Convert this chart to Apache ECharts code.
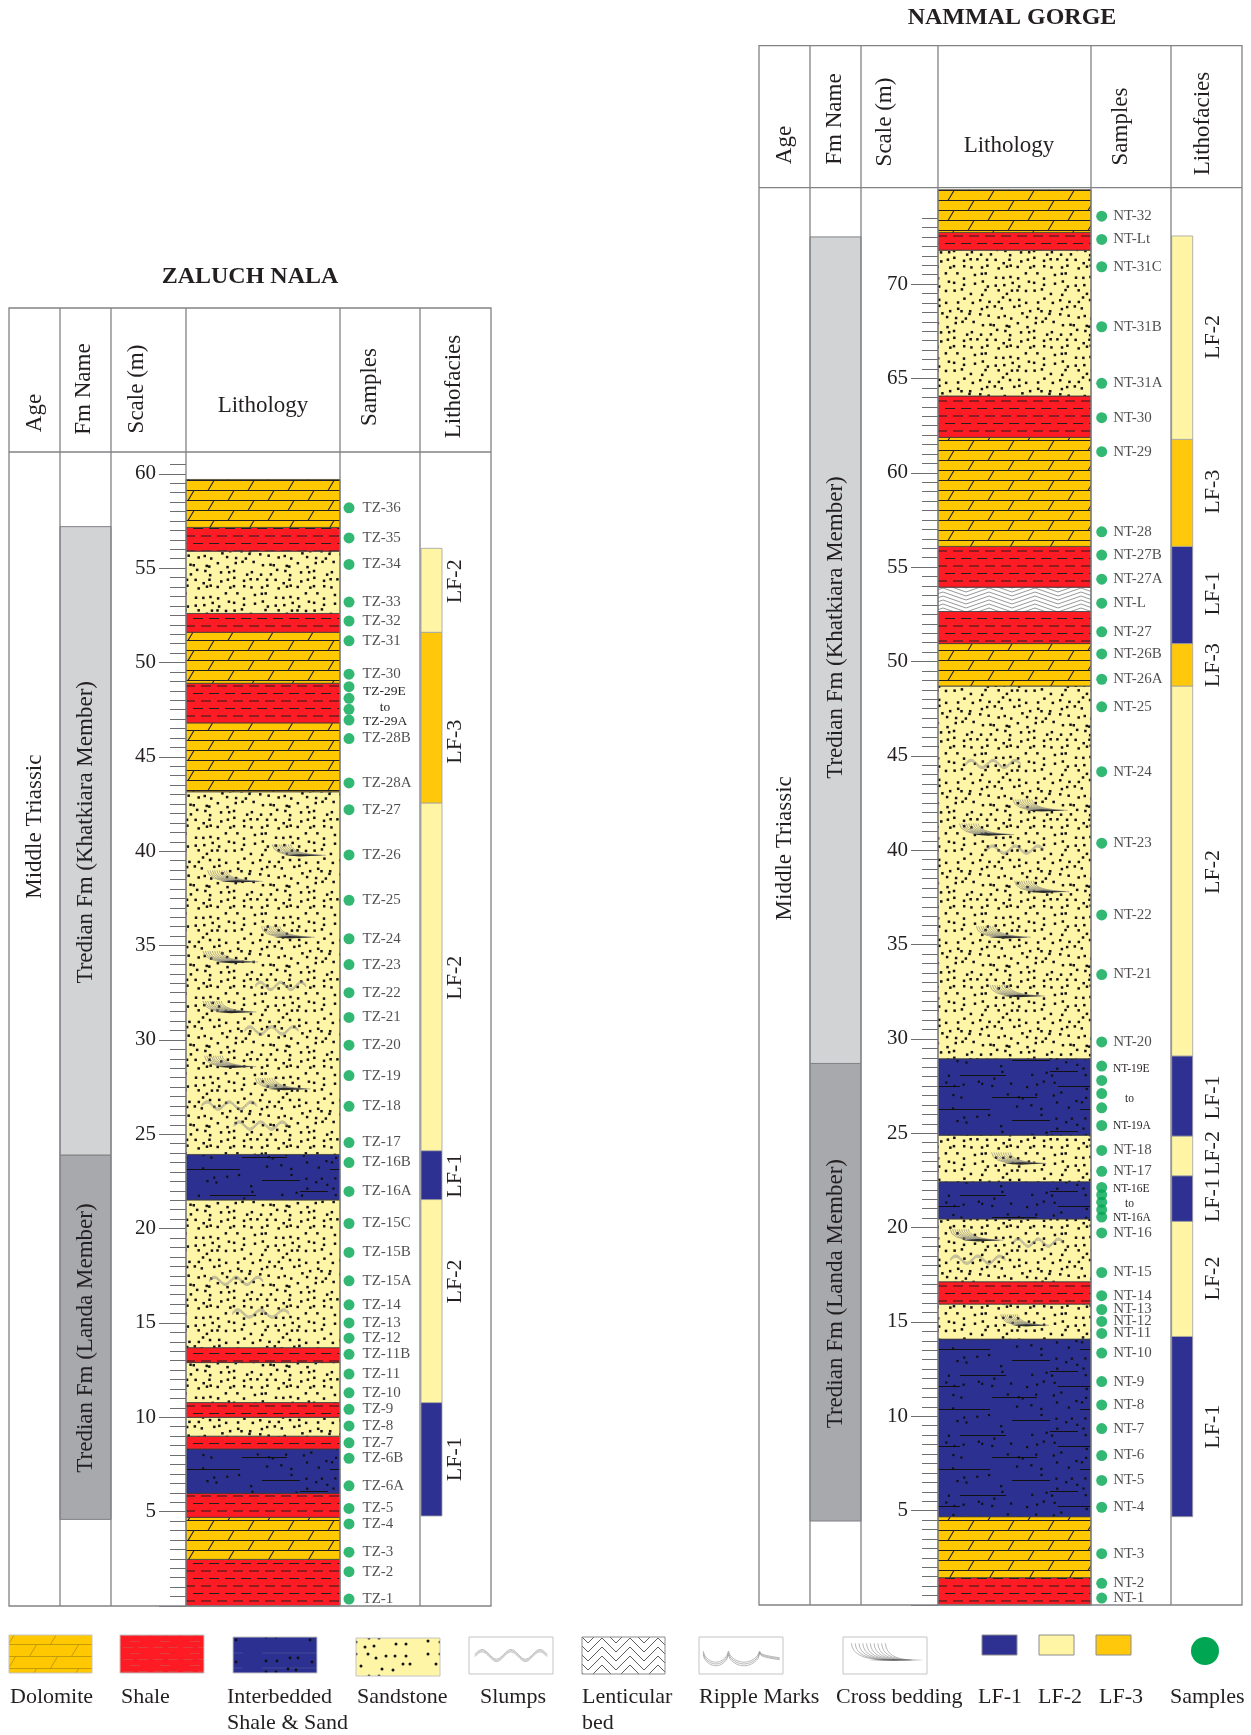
<!DOCTYPE html>
<html><head><meta charset="utf-8">
<script src="https://cdn.jsdelivr.net/npm/echarts/dist/echarts.min.js"></script>
<style>html,body{margin:0;padding:0;background:#fff}#c{width:1251px;height:1735px}</style>
</head><body><div id="c"></div>
<script>
// ================= DATA (depths in metres) =================
// lithology layers: [base, top, lithology]
const zaluchLayers = [
  [0, 2.47, 'shale'], [2.47, 4.7, 'dolomite'], [4.7, 5.97, 'shale'], [5.97, 8.32, 'inter'],
  [8.32, 9.0, 'shale'], [9.0, 10.0, 'sand'], [10.0, 10.78, 'shale'], [10.78, 12.9, 'sand'],
  [12.9, 13.69, 'shale'], [13.69, 21.52, 'sand'], [21.52, 23.93, 'inter'], [23.93, 43.15, 'sand'],
  [43.15, 46.8, 'dolomite'], [46.8, 48.9, 'shale'], [48.9, 51.6, 'dolomite'], [51.6, 52.6, 'shale'],
  [52.6, 55.9, 'sand'], [55.9, 57.16, 'shale'], [57.16, 59.7, 'dolomite']
];
const nammalLayers = [
  [0, 1.45, 'shale'], [1.45, 4.68, 'dolomite'], [4.68, 14.09, 'inter'], [14.09, 15.95, 'sand'],
  [15.95, 17.13, 'shale'], [17.13, 20.46, 'sand'], [20.46, 22.43, 'inter'], [22.43, 24.9, 'sand'],
  [24.9, 28.95, 'inter'], [28.95, 48.7, 'sand'], [48.7, 50.95, 'dolomite'], [50.95, 52.65, 'shale'],
  [52.65, 53.94, 'lenticular'], [53.94, 56.1, 'shale'], [56.1, 61.88, 'dolomite'], [61.88, 64.07, 'shale'],
  [64.07, 71.8, 'sand'], [71.8, 72.74, 'shale'], [72.74, 75.0, 'dolomite']
];
// samples: [label, depth]  ('' = dot of a labelled group)
const zaluchSamples = [
  ['TZ-1',0.37],['TZ-2',1.82],['TZ-3',2.85],['TZ-4',4.35],['TZ-5',5.17],['TZ-6A',6.37],['TZ-6B',7.83],
  ['TZ-7',8.65],['TZ-8',9.54],['TZ-9',10.42],['TZ-10',11.3],['TZ-11',12.29],['TZ-11B',13.34],['TZ-12',14.19],
  ['TZ-13',15.0],['TZ-14',15.96],['TZ-15A',17.23],['TZ-15B',18.74],['TZ-15C',20.27],['TZ-16A',21.97],
  ['TZ-16B',23.5],['TZ-17',24.56],['TZ-18',26.48],['TZ-19',28.11],['TZ-20',29.72],['TZ-21',31.19],
  ['TZ-22',32.5],['TZ-23',33.99],['TZ-24',35.36],['TZ-25',37.4],['TZ-26',39.8],['TZ-27',42.2],
  ['TZ-28A',43.62],['TZ-28B',45.97],['',46.95],['',47.52],['',48.1],['',48.72],['TZ-30',49.38],
  ['TZ-31',51.15],['TZ-32',52.2],['TZ-33',53.2],['TZ-34',55.2],['TZ-35',56.6],['TZ-36',58.2]
];
const zaluchSampleGroups = [['TZ-29E',48.45],['to',47.6],['TZ-29A',46.86]];
const nammalSamples = [
  ['NT-1',0.37],['NT-2',1.15],['NT-3',2.72],['NT-4',5.18],['NT-5',6.6],['NT-6',7.92],['NT-7',9.35],
  ['NT-8',10.6],['NT-9',11.84],['NT-10',13.35],['NT-11',14.39],['NT-12',15.03],['NT-13',15.66],
  ['NT-14',16.39],['NT-15',17.62],['NT-16',19.72],['',20.56],['',20.95],['',21.35],['',21.74],['',22.13],
  ['NT-17',22.98],['NT-18',24.09],['',25.41],['',26.35],['',27.1],['',27.8],['',28.56],['NT-20',29.84],
  ['NT-21',33.41],['NT-22',36.57],['NT-23',40.37],['NT-24',44.16],['NT-25',47.6],['NT-26A',49.06],
  ['NT-26B',50.4],['NT-27',51.57],['NT-L',53.09],['NT-27A',54.36],['NT-27B',55.64],['NT-28',56.87],
  ['NT-29',61.12],['NT-30',62.92],['NT-31A',64.74],['NT-31B',67.74],['NT-31C',70.92],['NT-Lt',72.37],['NT-32',73.6]
];
const nammalSampleGroups = [['NT-19E',28.4],['to',26.84],['NT-19A',25.37],['NT-16E',22.03],['to',21.25],['NT-16A',20.52]];
// lithofacies: [base, top, name, label depth]
const zaluchFacies = [[4.77,10.78,'LF-1',7.78],[10.78,21.54,'LF-2',17.2],[21.54,24.13,'LF-1',22.8],
  [24.13,42.56,'LF-2',33.3],[42.56,51.6,'LF-3',45.8],[51.6,56.05,'LF-2',54.3]];
const nammalFacies = [[4.68,14.23,'LF-1',9.45],[14.23,20.33,'LF-2',17.3],[20.33,22.75,'LF-1',21.45],
  [22.75,24.85,'LF-2',23.95],[24.85,29.1,'LF-1',26.9],[29.1,48.7,'LF-2',38.85],[48.7,50.95,'LF-3',49.8],
  [50.95,56.1,'LF-1',53.6],[56.1,61.77,'LF-3',59.0],[61.77,72.55,'LF-2',67.2]];
// formations: [base, top, name, member, label depth]
const zaluchFormations = [[4.59,23.9,'Tredian Fm (Landa Member)','landa',14.2],
  [23.9,57.2,'Tredian Fm (Khatkiara Member)','khatkiara',41.0]];
const nammalFormations = [[4.45,28.7,'Tredian Fm (Landa Member)','landa',16.5],
  [28.7,72.5,'Tredian Fm (Khatkiara Member)','khatkiara',51.8]];
const zaluchAge = [['Middle Triassic',41.3]];
const nammalAge = [['Middle Triassic',40.1]];
// sedimentary structures: [depth, from (fraction of column), to, type]
const zaluchStructures = [
  [39.78,0.56,0.89,'cross'],[38.4,0.14,0.48,'cross'],[35.44,0.49,0.82,'cross'],[34.13,0.11,0.45,'cross'],
  [32.86,0.45,0.78,'slump'],[31.48,0.11,0.44,'cross'],[30.5,0.38,0.73,'slump'],[28.58,0.12,0.44,'cross'],
  [27.4,0.45,0.79,'cross'],[26.52,0.1,0.46,'slump'],[25.46,0.31,0.66,'slump'],[17.23,0.15,0.5,'slump'],
  [15.5,0.3,0.67,'slump']
];
const nammalStructures = [
  [44.57,0.18,0.54,'slump'],[42.11,0.49,0.83,'cross'],[40.83,0.14,0.48,'cross'],[40.03,0.32,0.69,'slump'],
  [37.8,0.5,0.84,'cross'],[35.39,0.25,0.59,'cross'],[32.27,0.34,0.68,'cross'],[23.4,0.35,0.69,'cross'],
  [19.33,0.08,0.41,'cross'],[19.2,0.49,0.82,'slump'],[18.3,0.08,0.44,'slump'],[14.82,0.41,0.71,'cross']
];
// scale axes: labelled ticks and top of the minor ticks
const zaluchTickLabels = [5,10,15,20,25,30,35,40,45,50,55,60];
const zaluchTickTop = 60.5;
const nammalTickLabels = [5,10,15,20,25,30,35,40,45,50,55,60,65,70];
const nammalTickTop = 73.5;
const legendLabels = ['Dolomite','Shale','Interbedded\nShale & Sand','Sandstone','Slumps','Lenticular\nbed',
  'Ripple Marks','Cross bedding','LF-1','LF-2','LF-3','Samples'];

// ================= STYLE =================
const FONT = '"Liberation Serif","Times New Roman",serif';
const TXT = '#231F20';
const PPM = 18.87;
const C = {dolomite:'#FFC800', shale:'#FF1B24', inter:'#2C3091', sand:'#FFF5A6', green:'#00A651',
  lf1:'#2E3192', lf2:'#FFF5A5', lf3:'#FFC80A', landa:'#A7A9AC', khatkiara:'#D1D3D4', line:'#808285'};

function hash(i, j, k){ const h = Math.sin(i*12.9898 + j*78.233 + k*37.719)*43758.5453; return h - Math.floor(h); }
function tile(w, h, fn){ const c = document.createElement('canvas'); c.width = w; c.height = h; fn(c.getContext('2d'), w, h); return {image: c, repeat: 'repeat'}; }

function doloDraw(col, lw){ return (g,w,h)=>{ g.fillStyle=C.dolomite; g.fillRect(0,0,w,h); g.strokeStyle=col; g.lineWidth=lw;
  const r=h/2; g.beginPath(); g.moveTo(0,0.5); g.lineTo(w,0.5); g.moveTo(0,r+0.5); g.lineTo(w,r+0.5);
  g.moveTo(w*0.2,r+0.5); g.lineTo(w*0.2+r*0.6,0.5); g.moveTo(w*0.7,h+0.5); g.lineTo(w*0.7+r*0.6,r+0.5); g.stroke(); }; }
function zigDraw(period, amp, gap, n, col, lw){ return (g,w,h)=>{ g.fillStyle='#fff'; g.fillRect(0,0,w,h); g.strokeStyle=col; g.lineWidth=lw; g.beginPath();
  for (let k=-2;k<n+2;k++){ const o=k*gap; g.moveTo(0,o+amp); g.lineTo(w/2,o); g.lineTo(w,o+amp); } g.stroke(); }; }
const P = {
  dolomite: tile(40,20,doloDraw('#231F20',1.1)),
  shale: tile(32,15,(g,w,h)=>{ g.fillStyle=C.shale; g.fillRect(0,0,w,h); g.strokeStyle='#231F20'; g.lineWidth=1.2; g.beginPath();
    [[1,11],[17,27]].forEach(s=>{g.moveTo(s[0],3.5); g.lineTo(s[1],3.5);});
    [[9,19],[25,32],[0,3]].forEach(s=>{g.moveTo(s[0],11); g.lineTo(s[1],11);}); g.stroke(); }),
  sand: tile(80,80,(g,w,h)=>{ g.fillStyle=C.sand; g.fillRect(0,0,w,h); g.fillStyle='#111';
    for(let i=0;i<10;i++) for(let j=0;j<10;j++){ const x=i*8+hash(i,j,1)*6, y=j*8+hash(i,j,2)*6; g.fillRect(x,y,2.5,2.5);} }),
  inter: tile(150,60,(g,w,h)=>{ g.fillStyle=C.inter; g.fillRect(0,0,w,h); g.fillStyle='#111';
    for(let i=0;i<15;i++) for(let j=0;j<6;j++){ if(hash(i,j,3)<0.6){ g.fillRect(i*10+hash(i,j,4)*8, j*10+hash(i,j,5)*8, 2.2, 2.2);} }
    g.strokeStyle='#111'; g.lineWidth=1.1; g.beginPath();
    [[8,6,52],[92,17,45],[30,29,60],[112,40,38],[0,51,28],[60,55,46]].forEach(s=>{g.moveTo(s[0],s[1]+0.5); g.lineTo(s[0]+s[2],s[1]+0.5);}); g.stroke(); }),
  lenticular: tile(46,16,zigDraw(46,8,4,4,'#6a6a6a',0.7))
};
const LP = {
  dolomite: tile(42,24,doloDraw('#9a7a10',0.6)),
  shale: tile(30,12,(g,w,h)=>{ g.fillStyle=C.shale; g.fillRect(0,0,w,h); g.strokeStyle='#d94848'; g.lineWidth=0.8; g.beginPath();
    g.moveTo(3,3.5); g.lineTo(13,3.5); g.moveTo(18,3.5); g.lineTo(28,3.5); g.moveTo(10,9.5); g.lineTo(20,9.5); g.stroke(); }),
  inter: tile(84,35,(g,w,h)=>{ g.fillStyle=C.inter; g.fillRect(0,0,w,h); g.strokeStyle='#4a4f9a'; g.lineWidth=0.8; g.beginPath();
    g.moveTo(10,8); g.lineTo(75,8); g.moveTo(10,23); g.lineTo(75,23); g.stroke(); g.fillStyle='#111';
    [[14,16],[25,16],[38,13],[46,13],[60,17],[68,17],[14,27],[24,27],[36,24],[44,25],[58,30],[68,30]].forEach(p=>{g.beginPath(); g.arc(p[0],p[1],1.4,0,7); g.fill();}); }),
  sand: tile(84,38,(g,w,h)=>{ g.fillStyle=C.sand; g.fillRect(0,0,w,h); g.fillStyle='#111';
    [[8,7],[20,8],[33,4],[43,4],[29,13],[38,12],[60,10],[70,10],[8,20],[20,20],[32,20],[40,24],[50,22],[59,22],[70,22],
     [16,30],[25,32],[46,35],[57,36],[67,30],[74,30]].forEach(p=>{g.beginPath(); g.arc(p[0],p[1],1.5,0,7); g.fill();}); }),
  lenticular: tile(28,9,zigDraw(28,14,9,1,'#333',0.8))
};

// ================= LAYOUT =================
const ZL = {L:9, edges:[0,51,102,177,331,411,482], yTop:308, yHead:452, y0:1606, title:['ZALUCH NALA',250,277],
  heads:[['Age',34.5,413,1],['Fm Name',83.5,389,1],['Scale (m)',137,389,1],['Lithology',263,406,0],['Samples',370,387,1],['Lithofacies',454,386.5,1]],
  dotX:340, labelDist:8, lfBarX:412, lfLabelX:446.5, groupX:354, toX:376, groupFont:13.5,
  layers:zaluchLayers, samples:zaluchSamples, groups:zaluchSampleGroups, facies:zaluchFacies, fms:zaluchFormations,
  age:zaluchAge, structs:zaluchStructures, ticks:zaluchTickLabels, tickTop:zaluchTickTop};
const NL = {L:759, edges:[0,51,102,179,332,412,483], yTop:45.7, yHead:187.7, y0:1605, title:['NAMMAL GORGE',1012,18],
  heads:[['Age',784.7,145,1],['Fm Name',835,119,1],['Scale (m)',885,122,1],['Lithology',1009,146,0],['Samples',1121,126.5,1],['Lithofacies',1203,123.5,1]],
  dotX:342.7, labelDist:6, lfBarX:412.7, lfLabelX:454.5, groupX:354, toX:370.5, groupFont:11.5,
  layers:nammalLayers, samples:nammalSamples, groups:nammalSampleGroups, facies:nammalFacies, fms:nammalFormations,
  age:nammalAge, structs:nammalStructures, ticks:nammalTickLabels, tickTop:nammalTickTop};

const grid = [], xAxis = [], yAxis = [], series = [], graphic = [];

function rotText(x, y, text, size, rot){
  return {type:'text', x:x, y:y, rotation: rot ? Math.PI/2 : 0,
    style:{text:text, font: size+'px '+FONT, fill:TXT, align:'center', verticalAlign:'middle', textAlign:'center', textVerticalAlign:'middle'}};
}

function buildSection(S){
  const E = S.edges, W = E[6];
  const maxD = (S.y0 - S.yHead) / PPM;
  const gi = grid.length;
  const majorTop = S.ticks[S.ticks.length-1];
  grid.push({left:S.L, top:S.yHead, width:W, height:S.y0 - S.yHead, containLabel:false, outerBoundsMode:'none'});
  grid.push({left:S.L+E[3], top:S.y0 - S.tickTop*PPM, width:E[4]-E[3], height:S.tickTop*PPM, containLabel:false, outerBoundsMode:'none'});
  grid.push({left:S.L+E[3], top:S.y0 - majorTop*PPM, width:E[4]-E[3], height:majorTop*PPM, containLabel:false, outerBoundsMode:'none'});
  for (let k=0;k<3;k++) xAxis.push({type:'value', gridIndex:gi+k, min:0, max: k===0 ? W : 1, show:false});
  yAxis.push({type:'value', gridIndex:gi, min:0, max:maxD, show:false});
  yAxis.push({type:'value', gridIndex:gi+1, min:0, max:S.tickTop, interval:0.5, position:'left',
    axisLine:{show:false}, splitLine:{show:false}, axisLabel:{show:false},
    axisTick:{show:true, length:16, lineStyle:{color:'#6D6E71', width:1}}});
  yAxis.push({type:'value', gridIndex:gi+2, min:0, max:majorTop, interval:S.ticks[1]-S.ticks[0], position:'left',
    axisLine:{show:false}, splitLine:{show:false},
    axisTick:{show:true, length:27, lineStyle:{color:'#6D6E71', width:1}},
    axisLabel:{show:true, margin:30, fontFamily:FONT, fontSize:21, color:TXT, verticalAlign:'middle', padding:[13,0,0,0],
      formatter: v => (S.ticks.indexOf(v) >= 0 ? String(v) : '')}});

  const base = {type:'custom', xAxisIndex:gi, yAxisIndex:gi, silent:true, animation:false};
  // formation column
  series.push(Object.assign({}, base, {z:2, data:S.fms.map(f=>[f[0],f[1]]),
    renderItem:(p, api)=>{ const f=S.fms[p.dataIndex]; const a=api.coord([E[1],f[1]]), b=api.coord([E[2],f[0]]), m=api.coord([(E[1]+E[2])/2, f[4]]);
      return {type:'group', children:[
        {type:'rect', shape:{x:a[0], y:a[1], width:b[0]-a[0], height:b[1]-a[1]}, style:{fill:C[f[3]], stroke:C.line, lineWidth:1}},
        rotText(m[0], m[1], f[2], 23, true)]}; }}));
  // age label
  series.push(Object.assign({}, base, {z:3, data:S.age.map(a=>[0,a[1]]),
    renderItem:(p, api)=>{ const a=S.age[p.dataIndex]; const m=api.coord([(E[0]+E[1])/2, a[1]]); return rotText(m[0], m[1], a[0], 23, true); }}));
  // lithology
  series.push(Object.assign({}, base, {z:2, data:S.layers.map(l=>[l[0],l[1]]),
    renderItem:(p, api)=>{ const l=S.layers[p.dataIndex]; const a=api.coord([E[3],l[1]]), b=api.coord([E[4],l[0]]);
      return {type:'rect', shape:{x:a[0], y:a[1], width:b[0]-a[0], height:b[1]-a[1]}, style:{fill:P[l[2]], stroke:'#3a3a3a', lineWidth:0.8}}; }}));
  // structures
  series.push(Object.assign({}, base, {z:3, data:S.structs.map(s=>[s[1],s[0]]),
    renderItem:(p, api)=>{ const s=S.structs[p.dataIndex]; const cw=E[4]-E[3];
      const a=api.coord([E[3]+s[1]*cw, s[0]]), b=api.coord([E[3]+s[2]*cw, s[0]]);
      const x0=a[0], y=a[1], L=b[0]-a[0], ch=[];
      if (s[3]==='slump'){
        for (let k=0;k<3;k++){ const pts=[]; for (let i=0;i<=48;i++){ const t=i/48; pts.push([x0+t*L, y-3.6*Math.sin(t*Math.PI*5)+(k-1)*1.1]); }
          ch.push({type:'polyline', shape:{points:pts}, style:{stroke:'#8a8a8a', lineWidth:0.6, fill:'none'}}); }
      } else {
        for (let i=0;i<9;i++){ const xs=x0+i*L*0.045;
          ch.push({type:'bezierCurve', shape:{x1:xs, y1:y-11, cpx1:xs+1, cpy1:y-1, x2:xs+L*0.45+i*L*0.03, y2:y}, style:{stroke:'#7a7a7a', lineWidth:0.6, fill:'none'}}); }
        ch.push({type:'polygon', shape:{points:[[x0+L*0.25,y],[x0+L*0.55,y-1.2],[x0+L,y],[x0+L*0.55,y+1.2]]}, style:{fill:'#2b2b2b', stroke:'none'}});
      }
      return {type:'group', children:ch}; }}));
  // lithofacies
  series.push(Object.assign({}, base, {z:2, data:S.facies.map(f=>[f[0],f[1]]),
    renderItem:(p, api)=>{ const f=S.facies[p.dataIndex]; const a=api.coord([S.lfBarX,f[1]]), b=api.coord([S.lfBarX+21,f[0]]), m=api.coord([S.lfLabelX,f[3]]);
      const col = f[2]==='LF-1'?C.lf1:(f[2]==='LF-2'?C.lf2:C.lf3);
      return {type:'group', children:[
        {type:'rect', shape:{x:a[0], y:a[1], width:b[0]-a[0], height:b[1]-a[1]}, style:{fill:col, stroke:'#a0a0a0', lineWidth:0.8}},
        rotText(m[0], m[1], f[2], 22, true)]}; }}));
  // samples
  series.push({type:'scatter', xAxisIndex:gi, yAxisIndex:gi, silent:true, animation:false, z:4,
    symbol:'circle', symbolSize:11, itemStyle:{color:C.green},
    data:S.samples.map(s=>({name:s[0], value:[S.dotX, s[1]]})),
    label:{show:true, position:'right', distance:S.labelDist, formatter:'{b}', fontFamily:FONT, fontSize:15, color:TXT}});
  // grouped sample labels
  series.push(Object.assign({}, base, {z:4, data:S.groups.map(g=>[0,g[1]]),
    renderItem:(p, api)=>{ const g=S.groups[p.dataIndex]; const isTo = g[0]==='to';
      const m=api.coord([isTo?S.toX:S.groupX, g[1]]);
      return {type:'text', x:m[0], y:m[1], style:{text:g[0], font:S.groupFont+'px '+FONT, fill:TXT,
        align:isTo?'center':'left', textAlign:isTo?'center':'left', verticalAlign:'middle', textVerticalAlign:'middle'}}; }}));

  // table frame and headers
  const X = E.map(e=>S.L+e);
  graphic.push({type:'rect', z:50, shape:{x:X[0], y:S.yTop, width:W, height:S.y0-S.yTop}, style:{fill:'none', stroke:C.line, lineWidth:1.3}});
  for (let k=1;k<6;k++) graphic.push({type:'line', z:50, shape:{x1:X[k], y1:S.yTop, x2:X[k], y2:S.y0}, style:{stroke:C.line, lineWidth:1.3}});
  graphic.push({type:'line', z:50, shape:{x1:X[0], y1:S.yHead, x2:X[6], y2:S.yHead}, style:{stroke:C.line, lineWidth:1.3}});
  S.heads.forEach(h=>graphic.push(Object.assign(rotText(h[1], h[2], h[0], 23, h[3]===1), {z:50})));
  graphic.push({type:'text', z:50, x:S.title[1], y:S.title[2], style:{text:S.title[0], font:'bold 24px '+FONT, fill:TXT,
    align:'center', verticalAlign:'middle', textAlign:'center', textVerticalAlign:'middle'}});
}
buildSection(ZL);
buildSection(NL);

// ================= LEGEND =================
function lgText(x, y, text){ return {type:'text', z:50, x:x, y:y, style:{text:text, font:'22px '+FONT, fill:TXT, lineHeight:26,
  align:'left', verticalAlign:'top', textAlign:'left', textVerticalAlign:'top'}}; }
const LG = [
  {box:[9,1635,83,38], fill:LP.dolomite, tx:10}, {box:[120,1635,84,38], fill:LP.shale, tx:121},
  {box:[233,1637,84,36], fill:LP.inter, tx:227}, {box:[356,1638,84,38], fill:LP.sand, tx:357},
  {box:[469,1637,84,37], fill:'#fff', tx:480, sym:'slump'}, {box:[582,1637,83,37], fill:LP.lenticular, tx:582},
  {box:[699,1637,84,37], fill:'#fff', tx:699, sym:'ripple'}, {box:[843,1637,84,37], fill:'#fff', tx:836, sym:'cross'},
  {box:[982,1635,35,20], fill:C.lf1, tx:978}, {box:[1039,1635,35,20], fill:C.lf2, tx:1038},
  {box:[1096,1635,35,20], fill:C.lf3, tx:1099}, {dot:[1205,1651,14], tx:1170}
];
LG.forEach((it, i)=>{
  if (it.box){ const b=it.box;
    graphic.push({type:'rect', z:50, shape:{x:b[0], y:b[1], width:b[2], height:b[3]}, style:{fill:it.fill, stroke: (i>=8 || i===5) ? '#8c8c8c' : '#c4c4c4', lineWidth:1}});
    const x=b[0], y=b[1], w=b[2], h=b[3];
    if (it.sym==='slump'){
      for (let k=0;k<3;k++){ const pts=[]; for (let j=0;j<=50;j++){ const t=j/50; pts.push([x+w*0.07+t*w*0.86, y+h*0.5-h*0.13*Math.sin(t*Math.PI*5)+(k-1)*1.2]); }
        graphic.push({type:'polyline', z:51, shape:{points:pts}, style:{stroke:'#999', lineWidth:0.6, fill:'none'}}); }
    } else if (it.sym==='ripple'){
      for (let k=0;k<3;k++){ const pts=[]; const segs=[[0.05,0.35],[0.35,0.72]];
        segs.forEach(s=>{ for (let j=0;j<=20;j++){ const t=j/20; pts.push([x+w*(s[0]+(s[1]-s[0])*t), y+h*0.38+h*0.3*Math.pow(Math.sin(Math.PI*t),0.55)+k*1.8]); } });
        for (let j=0;j<=12;j++){ const t=j/12; pts.push([x+w*(0.72+0.24*t), y+h*0.38+h*0.18*Math.pow(t,0.4)+k*1.0]); }
        graphic.push({type:'polyline', z:51, shape:{points:pts}, style:{stroke:'#8a8a8a', lineWidth:0.6, fill:'none'}}); }
    } else if (it.sym==='cross'){
      for (let j=0;j<10;j++){ const xs=x+w*(0.1+j*0.045);
        graphic.push({type:'bezierCurve', z:51, shape:{x1:xs, y1:y+h*0.17, cpx1:xs+1, cpy1:y+h*0.6, x2:x+w*(0.5+j*0.035), y2:y+h*0.62}, style:{stroke:'#888', lineWidth:0.6, fill:'none'}}); }
      graphic.push({type:'polygon', z:51, shape:{points:[[x+w*0.3,y+h*0.62],[x+w*0.6,y+h*0.6],[x+w*0.97,y+h*0.62],[x+w*0.6,y+h*0.64]]}, style:{fill:'#555', stroke:'none'}});
    }
  } else {
    graphic.push({type:'circle', z:50, shape:{cx:it.dot[0], cy:it.dot[1], r:it.dot[2]}, style:{fill:C.green}});
  }
  graphic.push(lgText(it.tx, 1684, legendLabels[i]));
});

const chart = echarts.init(document.getElementById('c'), null, {renderer:'canvas'});
chart.setOption({backgroundColor:'#fff', animation:false, grid, xAxis, yAxis, series, graphic});
</script></body></html>
